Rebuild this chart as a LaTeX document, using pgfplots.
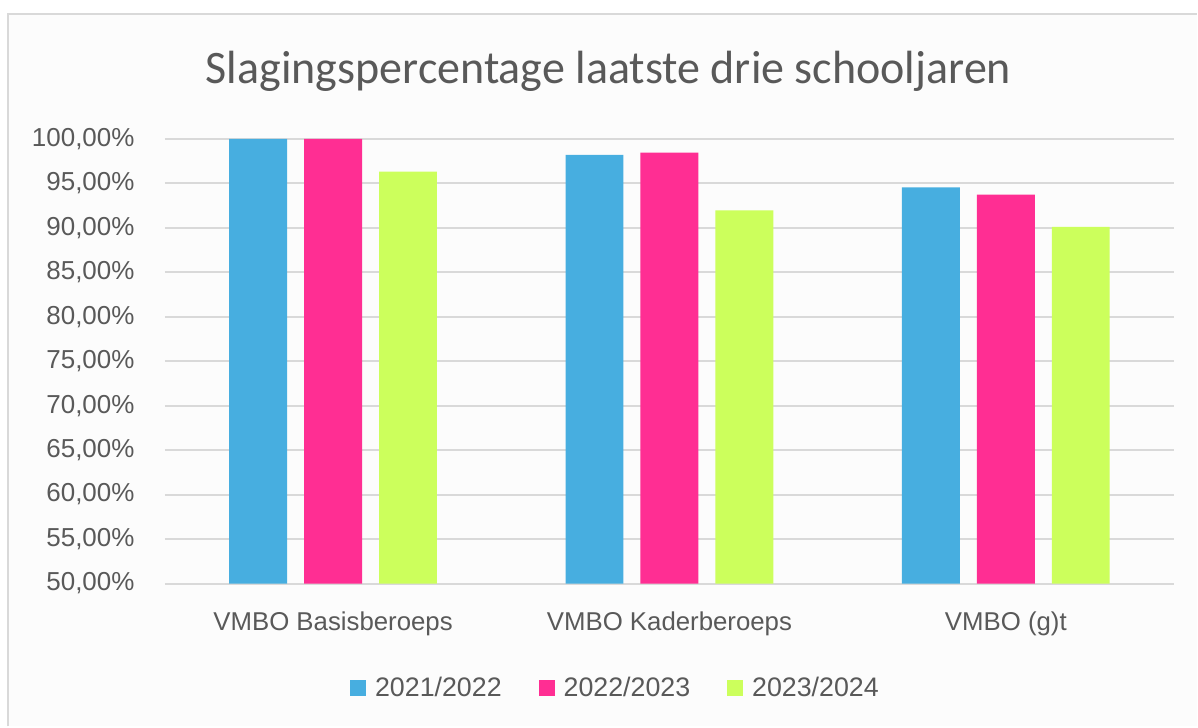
\documentclass[border=0pt]{standalone}
\usepackage{graphicx}
\usepackage{pgfplots}
\pgfplotsset{compat=1.18}
\usepackage{fontspec}
\setmainfont{Liberation Sans}
\newfontfamily\titlefont{Carlito}
\definecolor{cblue}{HTML}{47AEE0}
\definecolor{cpink}{HTML}{FF2E93}
\definecolor{cgreen}{HTML}{CCFF5C}
\definecolor{txt}{HTML}{595959}
\definecolor{gridc}{HTML}{D9D9D9}
\begin{document}
\begin{tikzpicture}
\fill[white] (-82.5pt,-71.5pt) rectangle (516.5pt,292pt);
\fill[black!1] (-78.5pt,-71.5pt) rectangle (516.5pt,285pt);
\draw[gridc, line width=1pt] (-78.5pt,-71.5pt) -- (-78.5pt,285pt) -- (516.5pt,285pt);
\useasboundingbox (-82.5pt,-71.5pt) rectangle (516.5pt,292pt);
\begin{axis}[
  at={(0,0)}, anchor=south west,
  scale only axis, width=505pt, height=222.5pt,
  xmin=-0.5, xmax=2.5, ymin=50, ymax=100,
  axis line style={draw=none},
  tick style={draw=none},
  ymajorgrids,
  major grid style={gridc, line width=1pt},
  xtick={0,1,2},
  xticklabels={VMBO Basisberoeps, VMBO Kaderberoeps, VMBO (g)t},
  ytick={50,55,...,100},
  yticklabel={\pgfmathprintnumber[fixed,fixed zerofill,precision=2,use comma,assume math mode=true]{\tick}\%},
  yticklabel style={anchor=east, inner sep=0pt, xshift=-15pt, font=\fontsize{13}{15}\selectfont, text=txt},
  xticklabel style={anchor=base, inner sep=0pt, yshift=-23.5pt, font=\fontsize{12.9}{15}\selectfont, text=txt},
  legend cell align=left,
  legend style={at={(0.4455,-0.236)}, anchor=center, draw=none, fill=none, legend columns=-1,
    font=\fontsize{13.4}{16}\selectfont, text=txt,
    /tikz/every odd column/.style={column sep=4.5pt},
    /tikz/every even column/.style={column sep=18.5pt},
    nodes={inner sep=0pt}},
  legend image code/.code={\fill[#1] (0pt,-4pt) rectangle (8pt,4pt);},
]
\addplot[ybar, bar width=29pt, bar shift=-37.5pt, fill=cblue, draw=none] coordinates {(0,100) (1,98.2) (2,94.55)};
\addlegendentry{2021/2022}
\addplot[ybar, bar width=29pt, bar shift=0pt, fill=cpink, draw=none] coordinates {(0,100) (1,98.46) (2,93.72)};
\addlegendentry{2022/2023}
\addplot[ybar, bar width=29pt, bar shift=37.5pt, fill=cgreen, draw=none] coordinates {(0,96.33) (1,91.95) (2,90.11)};
\addlegendentry{2023/2024}
\end{axis}
\node[anchor=base, text=txt, inner sep=0pt] at (222pt,250.35pt) {\titlefont\fontsize{23.3}{28}\selectfont\resizebox{403pt}{\height}{Slagingspercentage laatste drie schooljaren}};
\end{tikzpicture}
\end{document}
